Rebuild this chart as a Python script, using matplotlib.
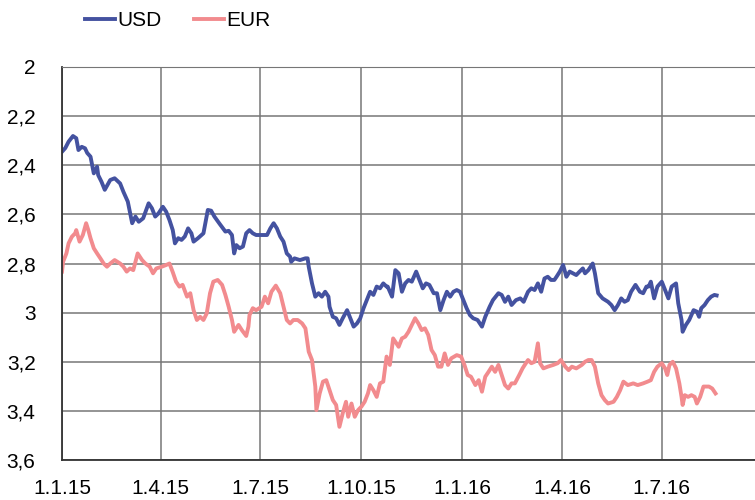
import matplotlib
matplotlib.use("Agg")
import matplotlib.pyplot as plt
import numpy as np
import pandas as pd

# days since 1.1.2015 and exchange rates
usd_days = [0, 3, 6, 10, 13, 15, 18, 21, 23, 26, 29, 32, 33, 36, 39, 44, 48, 53, 56, 60,
            64, 67, 70, 74, 79, 82, 85, 88, 92, 95, 98, 101, 103, 106, 109, 112, 115, 118, 120, 124,
            129, 133, 136, 139, 144, 149, 152, 155, 157, 159, 162, 165, 168, 171, 174, 177, 182, 187, 190, 193,
            196, 199, 202, 205, 208, 209, 212, 217, 222, 224, 225, 228, 231, 234, 237, 240, 243, 244, 247, 250,
            253, 256, 260, 263, 266, 269, 272, 275, 278, 281, 284, 287, 290, 293, 296, 297, 301, 304, 307, 310,
            313, 316, 319, 323, 326, 329, 332, 335, 339, 342, 345, 348, 351, 354, 357, 360, 363, 366, 369, 372,
            375, 379, 383, 386, 390, 393, 398, 401, 404, 407, 410, 414, 418, 421, 425, 428, 431, 434, 437, 440,
            443, 446, 449, 451, 454, 457, 460, 463, 466, 469, 472, 475, 477, 480, 484, 486, 489, 493, 498, 501,
            504, 507, 510, 513, 516, 519, 523, 527, 530, 533, 535, 537, 540, 543, 547, 550, 553, 556, 560, 562,
            565, 566, 569, 572, 576, 579, 581, 583, 586, 589, 592, 595, 597]
usd = [2.345, 2.33, 2.304, 2.281, 2.29, 2.338, 2.325, 2.331, 2.35, 2.365, 2.433, 2.406, 2.44, 2.467, 2.50, 2.46, 2.453, 2.474, 2.508, 2.548,
       2.636, 2.609, 2.63, 2.616, 2.555, 2.575, 2.609, 2.596, 2.569, 2.589, 2.623, 2.664, 2.718, 2.697, 2.704, 2.69, 2.657, 2.677, 2.711, 2.697,
       2.677, 2.582, 2.585, 2.609, 2.64, 2.67, 2.667, 2.684, 2.759, 2.725, 2.738, 2.731, 2.677, 2.664, 2.677, 2.684, 2.684, 2.684, 2.657, 2.636,
       2.657, 2.69, 2.711, 2.759, 2.772, 2.793, 2.779, 2.786, 2.779, 2.779, 2.813, 2.881, 2.935, 2.921, 2.935, 2.915, 2.935, 2.976, 3.017, 3.023,
       3.05, 3.023, 2.99, 3.023, 3.057, 3.044, 3.023, 2.982, 2.949, 2.915, 2.928, 2.894, 2.901, 2.881, 2.894, 2.894, 2.935, 2.827, 2.84, 2.915,
       2.881, 2.867, 2.874, 2.833, 2.867, 2.901, 2.881, 2.887, 2.921, 2.921, 2.99, 2.949, 2.915, 2.935, 2.915, 2.908, 2.915, 2.949, 2.982, 3.01,
       3.023, 3.03, 3.057, 3.017, 2.976, 2.949, 2.921, 2.928, 2.956, 2.935, 2.969, 2.949, 2.942, 2.956, 2.915, 2.901, 2.908, 2.881, 2.915, 2.861,
       2.854, 2.867, 2.867, 2.854, 2.833, 2.806, 2.854, 2.833, 2.84, 2.847, 2.833, 2.82, 2.84, 2.827, 2.80, 2.84, 2.921, 2.942, 2.956, 2.969,
       2.99, 2.969, 2.942, 2.956, 2.949, 2.915, 2.887, 2.915, 2.921, 2.894, 2.894, 2.874, 2.942, 2.894, 2.874, 2.908, 2.942, 2.894, 2.881, 2.962,
       3.03, 3.078, 3.05, 3.03, 2.99, 2.996, 3.017, 2.982, 2.969, 2.949, 2.935, 2.928, 2.93]

eur_days = [0, 1, 4, 6, 9, 12, 13, 16, 19, 22, 24, 26, 29, 32, 35, 38, 41, 44, 48, 53,
            56, 59, 62, 65, 67, 69, 73, 76, 80, 83, 86, 91, 95, 98, 101, 104, 107, 110, 114, 117,
            120, 123, 126, 129, 132, 135, 138, 142, 146, 149, 152, 155, 157, 160, 161, 164, 168, 170, 171, 174,
            177, 182, 185, 188, 191, 195, 199, 202, 205, 208, 211, 215, 219, 222, 225, 228, 231, 232, 235, 238,
            241, 244, 247, 250, 253, 256, 259, 261, 264, 267, 270, 273, 276, 279, 281, 284, 287, 290, 293, 296,
            299, 302, 307, 310, 313, 316, 319, 322, 325, 328, 331, 334, 337, 340, 343, 346, 349, 352, 355, 360,
            364, 367, 370, 373, 377, 380, 383, 386, 389, 392, 395, 398, 401, 404, 407, 410, 413, 417, 420, 422,
            425, 428, 431, 434, 436, 439, 443, 448, 452, 455, 459, 462, 465, 469, 474, 477, 480, 483, 486, 489,
            492, 495, 498, 503, 506, 509, 512, 516, 521, 525, 530, 534, 537, 540, 543, 547, 550, 552, 554, 557,
            560, 563, 565, 566, 568, 571, 574, 577, 579, 582, 585, 588, 590, 593, 596]
eur = [2.833, 2.793, 2.759, 2.718, 2.691, 2.677, 2.664, 2.711, 2.684, 2.636, 2.664, 2.697, 2.738, 2.759, 2.779, 2.80, 2.813, 2.80, 2.786, 2.80,
       2.813, 2.833, 2.82, 2.827, 2.793, 2.759, 2.786, 2.80, 2.813, 2.84, 2.82, 2.813, 2.806, 2.80, 2.835, 2.874, 2.894, 2.887, 2.935, 2.921,
       2.99, 3.03, 3.017, 3.03, 3.003, 2.921, 2.874, 2.867, 2.887, 2.928, 2.976, 3.03, 3.078, 3.057, 3.05, 3.071, 3.095, 3.057, 3.01, 2.982,
       2.99, 2.976, 2.935, 2.962, 2.915, 2.89, 2.921, 2.976, 3.03, 3.044, 3.03, 3.03, 3.044, 3.064, 3.159, 3.193, 3.301, 3.397, 3.329, 3.281,
       3.275, 3.316, 3.356, 3.376, 3.465, 3.41, 3.363, 3.424, 3.37, 3.424, 3.397, 3.383, 3.363, 3.329, 3.295, 3.316, 3.343, 3.288, 3.281, 3.179,
       3.213, 3.105, 3.139, 3.105, 3.098, 3.078, 3.05, 3.023, 3.044, 3.071, 3.064, 3.091, 3.152, 3.173, 3.22, 3.22, 3.166, 3.213, 3.186, 3.173,
       3.179, 3.213, 3.254, 3.261, 3.295, 3.275, 3.322, 3.261, 3.241, 3.22, 3.241, 3.213, 3.254, 3.295, 3.309, 3.288, 3.288, 3.254, 3.227, 3.213,
       3.193, 3.206, 3.20, 3.125, 3.206, 3.227, 3.22, 3.213, 3.206, 3.193, 3.22, 3.234, 3.22, 3.227, 3.213, 3.20, 3.193, 3.193, 3.22, 3.288,
       3.336, 3.356, 3.37, 3.363, 3.343, 3.316, 3.281, 3.295, 3.288, 3.295, 3.288, 3.281, 3.275, 3.241, 3.22, 3.206, 3.227, 3.254, 3.213, 3.20,
       3.227, 3.288, 3.343, 3.376, 3.336, 3.343, 3.336, 3.343, 3.37, 3.343, 3.301, 3.301, 3.301, 3.309, 3.329]

tick_dates = ["2015-01-01", "2015-04-01", "2015-07-01", "2015-10-01",
              "2016-01-01", "2016-04-01", "2016-07-01"]
tick_labels = ["1.1.15", "1.4.15", "1.7.15", "1.10.15", "1.1.16", "1.4.16", "1.7.16"]
y_ticks = [2.0, 2.2, 2.4, 2.6, 2.8, 3.0, 3.2, 3.4, 3.6]
y_labels = ["2", "2,2", "2,4", "2,6", "2,8", "3", "3,2", "3,4", "3,6"]

start = pd.Timestamp("2015-01-01")
usd_x = start + pd.to_timedelta(usd_days, unit="D")
eur_x = start + pd.to_timedelta(eur_days, unit="D")

plt.rcParams["font.family"] = ["Liberation Sans", "DejaVu Sans"]

fig = plt.figure(figsize=(7.55, 5.0), dpi=100)
ax = fig.add_axes([62 / 755, 40 / 500, 1 - 62 / 755, 393 / 500])

ax.plot(usd_x, usd, color="#4452A0", lw=2.8, label="USD", solid_joinstyle="round")
ax.plot(eur_x, eur, color="#F28B8E", lw=2.8, label="EUR", solid_joinstyle="round")

ax.set_ylim(3.6, 2.0)
ax.set_xlim(pd.Timestamp("2015-01-01"), pd.Timestamp("2016-09-24"))
ax.set_yticks(y_ticks)
ax.set_yticklabels(y_labels)
ax.set_xticks(pd.to_datetime(tick_dates))
ax.set_xticklabels(tick_labels)
ax.tick_params(axis="y", length=0, pad=19, labelsize=15)
ax.tick_params(axis="x", length=0, pad=14, labelsize=15)

ax.grid(True, color="#767676", lw=1.1)
ax.set_axisbelow(True)
for side in ["left", "bottom"]:
    ax.spines[side].set_color("#333333")
    ax.spines[side].set_linewidth(1.3)
ax.spines["top"].set_color("#767676")
ax.spines["right"].set_visible(False)

fig.legend(loc="center left", bbox_to_anchor=(85 / 755, 1 - 21 / 500), ncol=2,
           frameon=False, fontsize=15, handlelength=1.45, handletextpad=0.1,
           columnspacing=1.55, borderpad=0, borderaxespad=0)

fig.savefig("out.png", dpi=100)
